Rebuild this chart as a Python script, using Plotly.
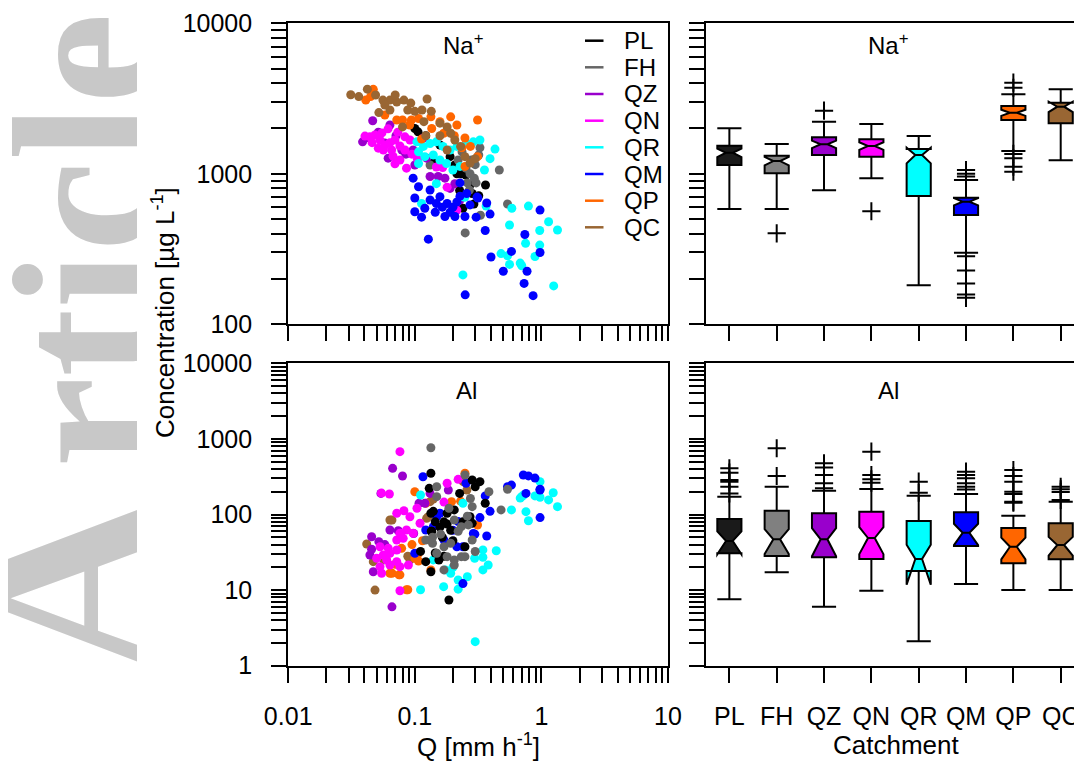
import plotly.graph_objects as go

# ---------------- data ----------------
catchments = ["PL", "FH", "QZ", "QN", "QR", "QM", "QP", "QC"]
scatter_colors = ["#000000", "#666666", "#9900CC", "#FF00FF", "#00FFFF", "#0000FF", "#FF6600", "#996633"]
box_colors = ["#1A1A1A", "#808080", "#9900CC", "#FF00FF", "#00FFFF", "#0000FF", "#FF6600", "#996633"]

# Na+ scatter (Q [mm/h], concentration [ug/L])
na_PL_q = [0.100, 0.122, 0.106, 0.139, 0.233, 0.226, 0.284, 0.362, 0.32, 0.293, 0.24, 0.215, 0.253, 0.158, 0.207, 0.273, 0.19]
na_PL_c = [2000, 1790, 1900, 1235, 1000, 775, 740, 843, 715, 630, 590, 1000, 982, 1554, 1144, 843, 1300]
na_FH_q = [0.253, 0.273, 0.295, 0.26, 0.305, 0.28, 0.32, 0.236, 0.465, 0.54, 0.25, 0.327, 0.22, 0.132, 0.33, 0.30, 0.27]
na_FH_c = [1090, 1000, 935, 870, 870, 1235, 1333, 1400, 1060, 630, 405, 1490, 1235, 1144, 530, 1150, 780]
na_QZ_q = [0.0387, 0.0465, 0.0636, 0.0616, 0.124, 0.132, 0.153, 0.19, 0.117, 0.0425, 0.0515, 0.071, 0.079, 0.097, 0.1, 0.173, 0.207, 0.2275, 0.058, 0.085]
na_QZ_c = [1630, 2250, 2110, 1270, 1270, 960, 960, 800, 1730, 1740, 1890, 1790, 1440, 1440, 1144, 935, 860, 670, 1600, 1350]
na_QN_q = [0.0404, 0.0442, 0.0485, 0.0531, 0.055, 0.046, 0.058, 0.0636, 0.0697, 0.0763, 0.0836, 0.0565, 0.0673, 0.0763, 0.086, 0.0697, 0.0916, 0.0615, 0.0734, 0.0836, 0.148, 0.166, 0.18, 0.215, 0.0656, 0.0515, 0.095, 0.105]
na_QN_c = [1780, 1760, 1811, 1678, 1870, 1610, 1554, 1610, 1678, 1530, 1440, 1440, 1310, 1235, 1090, 1165, 1678, 1990, 1890, 1760, 1110, 1100, 815, 574, 1440, 1480, 1350, 1250]
na_QR_q = [0.104, 0.117, 0.132, 0.148, 0.167, 0.19, 0.215, 0.256, 0.29, 0.107, 0.12, 0.14, 0.158, 0.178, 0.2, 0.2275, 0.107, 0.148, 0.249, 0.113, 0.43, 0.393, 0.355, 0.366, 0.245, 0.584, 0.79, 1.14, 1.34, 0.97, 0.56, 0.75, 0.97, 0.48, 0.54, 0.89, 0.56, 0.68, 0.70, 0.24, 1.25, 0.327]
na_QR_c = [1630, 1520, 1590, 1630, 1520, 1440, 1520, 1590, 1630, 1400, 1300, 1333, 1235, 1170, 1060, 1120, 1170, 860, 700, 635, 1460, 1260, 1060, 610, 700, 590, 610, 480, 423, 420, 457, 345, 336, 295, 285, 282, 250, 255, 245, 213, 180, 1678]
na_QM_q = [0.097, 0.107, 0.1, 0.132, 0.158, 0.18, 0.2, 0.1, 0.113, 0.173, 0.2075, 0.249, 0.148, 0.2275, 0.257, 0.31, 0.128, 0.393, 0.305, 0.36, 0.975, 0.74, 0.975, 0.58, 0.40, 0.50, 0.77, 0.73, 0.86, 0.25, 0.132, 0.12, 0.145, 0.19, 0.273, 0.2275, 0.37, 0.315, 0.165, 0.215]
na_QM_c = [935, 820, 690, 780, 705, 635, 600, 560, 515, 520, 520, 520, 635, 870, 740, 700, 368, 540, 515, 420, 574, 395, 300, 305, 280, 225, 225, 187, 155, 157, 670, 590, 555, 555, 621, 710, 640, 690, 600, 650]
na_QP_q = [0.047, 0.041, 0.0447, 0.080, 0.094, 0.107, 0.134, 0.158, 0.192, 0.169, 0.205, 0.249, 0.313, 0.275, 0.313, 0.249, 0.113, 0.072, 0.058, 0.091, 0.215, 0.235, 0.136]
na_QP_c = [3640, 3090, 3260, 2277, 2277, 2330, 2390, 2220, 2390, 1860, 1790, 1730, 2277, 1520, 1300, 1120, 1700, 2277, 2460, 2110, 2110, 1490, 2000]
na_QC_q = [0.0312, 0.0361, 0.0422, 0.049, 0.056, 0.0636, 0.072, 0.082, 0.093, 0.125, 0.114, 0.088, 0.0636, 0.052, 0.080, 0.118, 0.158, 0.18, 0.192, 0.23, 0.249, 0.273, 0.18, 0.122, 0.158, 0.058, 0.07, 0.1, 0.135, 0.207, 0.30]
na_QC_c = [3350, 3260, 3650, 3340, 3090, 3090, 3000, 3090, 2950, 3140, 2655, 2655, 2655, 2550, 2050, 2220, 2170, 2050, 1860, 1520, 1300, 1180, 1440, 1790, 1790, 2865, 3340, 2600, 2600, 1678, 1260]

# Al scatter
al_PL_q = [0.134, 0.13, 0.284, 0.327, 0.30, 0.226, 0.36, 0.134, 0.18, 0.205, 0.145, 0.17, 0.18, 0.136, 0.158, 0.192, 0.111, 0.122, 0.134, 0.145, 0.17, 0.155, 0.249, 0.284, 0.24, 0.186, 0.273, 0.14, 0.135, 0.2, 0.165]
al_PL_c = [351, 222, 286, 272, 233, 190, 141, 104, 104, 115, 80, 80, 75, 60, 68, 62, 32.5, 23.8, 17.5, 31, 28, 25, 37.5, 76.5, 80, 7.4, 93.5, 110, 60, 45, 50]
al_FH_q = [0.134, 0.249, 0.385, 0.54, 0.48, 0.149, 0.149, 0.186, 0.275, 0.284, 0.205, 0.233, 0.265, 0.284, 0.122, 0.138, 0.17, 0.192, 0.149, 0.18, 0.205, 0.233, 0.17, 0.205, 0.249, 0.30, 0.138, 0.16, 0.22, 0.26]
al_FH_c = [765, 333, 200, 216, 115, 233, 172, 121, 163, 127, 84.7, 69, 72.8, 46, 46, 41.6, 37.5, 41.6, 30.7, 27.7, 25.1, 27.7, 18.5, 21.5, 27.7, 32.4, 50, 55, 60, 95]
al_QZ_q = [0.0668, 0.08, 0.054, 0.0636, 0.074, 0.0456, 0.052, 0.0456, 0.0442, 0.047, 0.066, 0.132, 0.1205, 0.184, 0.108, 0.098, 0.058]
al_QZ_c = [408, 323, 190, 62.4, 61, 50.8, 43.7, 34.7, 29.1, 17.5, 6.0, 190, 141, 211, 141, 56, 40]
al_QN_q = [0.0763, 0.063, 0.072, 0.082, 0.0915, 0.104, 0.11, 0.0763, 0.086, 0.097, 0.072, 0.081, 0.0531, 0.0617, 0.0564, 0.0636, 0.072, 0.05, 0.06, 0.072, 0.0531, 0.0636, 0.0763, 0.089, 0.0547, 0.0763, 0.18, 0.22, 0.17, 0.0545]
al_QN_c = [678, 187, 104, 112, 93.5, 121, 76.5, 56.4, 62.4, 56.4, 46, 48.4, 37.5, 35.7, 29.1, 30.7, 33.9, 26.4, 25, 23.8, 20.4, 21.5, 20.4, 21.5, 16.7, 9.8, 259, 292, 146, 192]
al_QR_q = [0.70, 0.72, 0.68, 0.975, 0.89, 0.975, 1.24, 1.14, 1.34, 0.755, 0.79, 0.58, 0.44, 0.345, 0.24, 0.30, 0.345, 0.297, 0.345, 0.38, 0.174, 0.192, 0.22, 0.169, 0.22, 0.111, 0.111, 0.14, 0.2, 0.26]
al_QR_c = [172, 180, 165, 272, 176, 169, 194, 156, 127, 109, 82.8, 115, 33.2, 27.2, 141, 2.08, 34, 26.4, 18.5, 21.5, 18.5, 16.7, 13.6, 11.1, 10.3, 10.1, 181, 25.1, 20, 15]
al_QM_q = [0.72, 0.79, 0.89, 0.58, 0.755, 0.976, 0.976, 0.36, 0.393, 0.327, 0.37, 0.298, 0.254, 0.116, 0.54, 0.975, 0.122, 0.149, 0.17, 0.1, 0.22, 0.24, 0.24, 0.158, 0.14, 0.2, 0.215, 0.29]
al_QM_c = [333, 324, 303, 245, 190, 216, 91, 176, 110, 91, 52, 55, 259, 316, 233, 211, 62.4, 93.5, 46, 30.7, 80.8, 37.5, 12.2, 104, 69, 62, 37.5, 56]
al_QP_q = [0.1, 0.107, 0.122, 0.249, 0.313, 0.088, 0.0636, 0.075, 0.0787, 0.066, 0.0763, 0.086, 0.1, 0.107, 0.195, 0.134, 0.095, 0.115, 0.07, 0.23]
al_QP_c = [200, 24.3, 141, 351, 72.6, 10.1, 16.7, 15.9, 35.7, 16.7, 15.9, 10.1, 26.4, 30.7, 148, 18.5, 40, 45, 22, 150]
al_QC_q = [0.0417, 0.0485, 0.066, 0.124, 0.047, 0.0916, 0.132, 0.258, 0.241, 0.128, 0.0636, 0.088, 0.057, 0.14]
al_QC_c = [40.7, 10, 84.7, 89, 23.8, 25.1, 148, 211, 272, 93.5, 84.7, 28, 25.1, 160]

# Box-plot statistics, order = catchments
na_lower = [583, 583, 777, 933, 182, 299, 1418, 1231]
na_q1 = [1144, 1007, 1333, 1300, 712, 532, 2278, 2163]
na_median = [1380, 1216, 1571, 1531, 1333, 653, 2547, 2792]
na_q3 = [1538, 1318, 1750, 1695, 1462, 694, 2820, 2968]
na_upper = [2005, 1578, 2219, 2143, 1783, 910, 3373, 3641]
na_notch = [90, 80, 90, 90, 159, 36, 120, 220]
na_out_cat = ["FH", "QZ", "QN", "QM", "QM", "QM", "QM", "QM", "QM", "QM", "QM", "QP", "QP", "QP", "QP", "QP", "QP"]
na_out_val = [402, 2625, 564, 1060, 1000, 960, 283, 228, 187, 158, 150, 4030, 3730, 1355, 1268, 1115, 1033]

al_lower = [7.55, 17.2, 6.0, 9.8, 2.1, 12.05, 10.0, 10.0]
al_q1 = [30.7, 28.3, 27.2, 25.8, 17.9, 38.3, 22.6, 25.5]
al_median = [44.7, 47, 47, 48.9, 25.8, 57.4, 37.5, 39.5]
al_q3 = [87.3, 112, 104, 109, 82, 107, 66.3, 76.5]
al_upper = [172, 233, 206, 217, 177, 187, 96.4, 148]
al_notch = [15, 17, 19, 19, 14, 18, 12, 11]
al_out_cat = (["PL"] * 6 + ["FH"] * 2 + ["QZ"] * 5 + ["QN"] * 4 + ["QR"] * 2 + ["QM"] * 6 + ["QP"] * 7 + ["QC"] * 4)
al_out_val = [408, 357, 286, 272, 233, 190,
              752, 323,
              475, 417, 333, 259, 222,
              678, 333, 292, 264,
              272, 194,
              368, 333, 301, 259, 233, 214,
              388, 323, 272, 200, 187, 148, 143,
              233, 215, 199, 156]

q_decade_labels = ["0.01", "0.1", "1", "10"]
na_decade_labels = ["100", "1000", "10000"]
al_decade_labels = ["1", "10", "100", "1000", "10000"]

# ---------------- layout helpers ----------------
# the page body has an 8 px margin: the figure starts at page pixel (8, 8)
OFF = 8
W, H = 1082 - OFF, 763 - OFF
FONT = "Liberation Sans, Arial, Helvetica, sans-serif"
SERIF = "Liberation Serif, Times New Roman, serif"


def px(x):  # page pixel -> paper fraction
    return (x - OFF) / W


def py(y):
    return 1 - (y - OFF) / H


def log_ticks(labels):
    vals, texts = [], []
    decades = [float(s) for s in labels]
    for i, d in enumerate(decades):
        vals.append(d)
        texts.append(labels[i])
        if i < len(decades) - 1:
            for m in range(2, 10):
                vals.append(d * m)
                texts.append("")
    return vals, texts


qx_vals, qx_text = log_ticks(q_decade_labels)
na_vals, na_text = log_ticks(na_decade_labels)
al_vals, al_text = log_ticks(al_decade_labels)

na_q = {"PL": (na_PL_q, na_PL_c), "FH": (na_FH_q, na_FH_c), "QZ": (na_QZ_q, na_QZ_c), "QN": (na_QN_q, na_QN_c),
        "QR": (na_QR_q, na_QR_c), "QM": (na_QM_q, na_QM_c), "QP": (na_QP_q, na_QP_c), "QC": (na_QC_q, na_QC_c)}
al_q = {"PL": (al_PL_q, al_PL_c), "FH": (al_FH_q, al_FH_c), "QZ": (al_QZ_q, al_QZ_c), "QN": (al_QN_q, al_QN_c),
        "QR": (al_QR_q, al_QR_c), "QM": (al_QM_q, al_QM_c), "QP": (al_QP_q, al_QP_c), "QC": (al_QC_q, al_QC_c)}
col = dict(zip(catchments, scatter_colors))

fig = go.Figure()

# scatter panels
for name in ["PL", "FH", "QZ", "QN", "QR", "QM", "QP", "QC"]:
    qv, cv = na_q[name]
    fig.add_trace(go.Scatter(x=qv, y=cv, mode="markers", xaxis="x", yaxis="y",
                             marker=dict(color=col[name], size=9, line=dict(width=0)),
                             showlegend=False, hoverinfo="skip"))
for name in ["QC", "QP", "QZ", "QN", "QR", "QM", "PL", "FH"]:
    qv, cv = al_q[name]
    fig.add_trace(go.Scatter(x=qv, y=cv, mode="markers", xaxis="x3", yaxis="y3",
                             marker=dict(color=col[name], size=9, line=dict(width=0)),
                             showlegend=False, hoverinfo="skip"))

# box panels
for ax, (lo, q1, me, q3, hi, ns) in [("2", (na_lower, na_q1, na_median, na_q3, na_upper, na_notch)),
                                     ("4", (al_lower, al_q1, al_median, al_q3, al_upper, al_notch))]:
    for i, name in enumerate(catchments):
        fig.add_trace(go.Box(x=[name], q1=[q1[i]], median=[me[i]], q3=[q3[i]],
                             lowerfence=[lo[i]], upperfence=[hi[i]], notchspan=[ns[i]],
                             notched=True, notchwidth=0.36, width=0.51, whiskerwidth=1,
                             fillcolor=box_colors[i], line=dict(color="black", width=2),
                             boxpoints=False, xaxis="x" + ax, yaxis="y" + ax,
                             showlegend=False, hoverinfo="skip"))

for ax, cats, vals in [("2", na_out_cat, na_out_val), ("4", al_out_cat, al_out_val)]:
    fig.add_trace(go.Scatter(x=cats, y=vals, mode="markers", xaxis="x" + ax, yaxis="y" + ax,
                             marker=dict(symbol="cross-thin", size=13, color="black",
                                         line=dict(width=2, color="black")),
                             showlegend=False, hoverinfo="skip"))

axis_common = dict(showline=True, linewidth=2, linecolor="black", ticks="outside", ticklen=15,
                   tickwidth=2, tickcolor="black", showgrid=False, zeroline=False, automargin=False,
                   tickfont=dict(family=FONT, size=25, color="black"))

xl_dom = [px(288.2), px(668)]
xr_dom = [px(705.7), 1.0]
yt_dom = [py(324.3), py(23.3)]
yb_dom = [py(665.7), py(363.3)]

fig.update_layout(
    width=W, height=H, margin=dict(l=0, r=0, t=0, b=0, pad=0),
    paper_bgcolor="white", plot_bgcolor="white", showlegend=False, boxmode="overlay",
    font=dict(family=FONT, size=24, color="black"),
    xaxis=dict(axis_common, type="log", range=[-2, 1], domain=xl_dom, anchor="y", mirror=True,
               tickvals=qx_vals, ticktext=qx_text, showticklabels=False),
    yaxis=dict(axis_common, type="log", range=[2, 4], domain=yt_dom, anchor="x", mirror=True,
               tickvals=na_vals, ticktext=na_text, ticklabelstandoff=14),
    xaxis3=dict(axis_common, type="log", range=[-2, 1], domain=xl_dom, anchor="y3", mirror=True,
                tickvals=qx_vals, ticktext=qx_text, ticklabelstandoff=12),
    yaxis3=dict(axis_common, type="log", range=[0, 4], domain=yb_dom, anchor="x3", mirror=True,
                tickvals=al_vals, ticktext=al_text, ticklabelstandoff=14),
    xaxis2=dict(axis_common, type="category", categoryorder="array", categoryarray=catchments,
                range=[-0.5, 7.45], domain=xr_dom, anchor="y2", mirror=True, showticklabels=False),
    yaxis2=dict(axis_common, type="log", range=[2, 4], domain=yt_dom, anchor="x2", mirror=False,
                tickvals=na_vals, showticklabels=False),
    xaxis4=dict(axis_common, type="category", categoryorder="array", categoryarray=catchments,
                range=[-0.5, 7.45], domain=xr_dom, anchor="y4", mirror=True, ticklabelstandoff=12),
    yaxis4=dict(axis_common, type="log", range=[0, 4], domain=yb_dom, anchor="x4", mirror=False,
                tickvals=al_vals, showticklabels=False),
)

ann = []
# watermark ("A" a little larger than the rest), baseline near page x = 154
ann.append(dict(text="<b>rticle</b>", x=px(154 - 0.3375 * 205), y=py(240), xref="paper", yref="paper",
                xanchor="center", yanchor="middle", showarrow=False, textangle=-90,
                font=dict(family=SERIF, size=205, color="#C8C8C8")))
ann.append(dict(text="<b>A</b>", x=px(154 - 0.3375 * 255), y=py(586), xref="paper", yref="paper",
                xanchor="center", yanchor="middle", showarrow=False, textangle=-90,
                font=dict(family=SERIF, size=255, color="#C8C8C8")))
# white strip that cuts the watermark
ann.append(dict(text=" ", x=px(137), y=0.5, xref="paper", yref="paper", xanchor="left", yanchor="middle",
                showarrow=False, width=39, height=H, bgcolor="white", borderpad=0, borderwidth=0))
# axis titles
ann.append(dict(text="Concentration [µg L<sup>-1</sup>]", x=px(163), y=py(312), xref="paper", yref="paper",
                xanchor="center", yanchor="middle", showarrow=False, textangle=-90,
                font=dict(family=FONT, size=26, color="black")))
ann.append(dict(text="Q [mm h<sup>-1</sup>]", x=px(478), y=py(745), xref="paper", yref="paper",
                xanchor="center", yanchor="middle", showarrow=False, font=dict(family=FONT, size=26, color="black")))
ann.append(dict(text="Catchment", x=px(896), y=py(745), xref="paper", yref="paper",
                xanchor="center", yanchor="middle", showarrow=False, font=dict(family=FONT, size=26, color="black")))
# panel titles
for t, x, y in [("Na<sup>+</sup>", 463, 44), ("Al", 466, 390), ("Na<sup>+</sup>", 888, 44), ("Al", 888, 390)]:
    ann.append(dict(text=t, x=px(x), y=py(y), xref="paper", yref="paper", xanchor="center", yanchor="middle",
                    showarrow=False, font=dict(family=FONT, size=24, color="black")))
# legend
legend_rows = [40.7, 67.3, 94, 120.7, 147.3, 174, 200.7, 227.3]
shapes = []
for name, c, yy in zip(catchments, scatter_colors, legend_rows):
    shapes.append(dict(type="line", xref="paper", yref="paper", x0=px(585), x1=px(603.5), y0=py(yy), y1=py(yy),
                       line=dict(color=c, width=2.5)))
    ann.append(dict(text=name, x=px(622), y=py(yy), xref="paper", yref="paper", xanchor="left", yanchor="middle",
                    showarrow=False, font=dict(family=FONT, size=24, color="black")))

fig.update_layout(annotations=ann, shapes=shapes)
fig.write_html("out.html")
